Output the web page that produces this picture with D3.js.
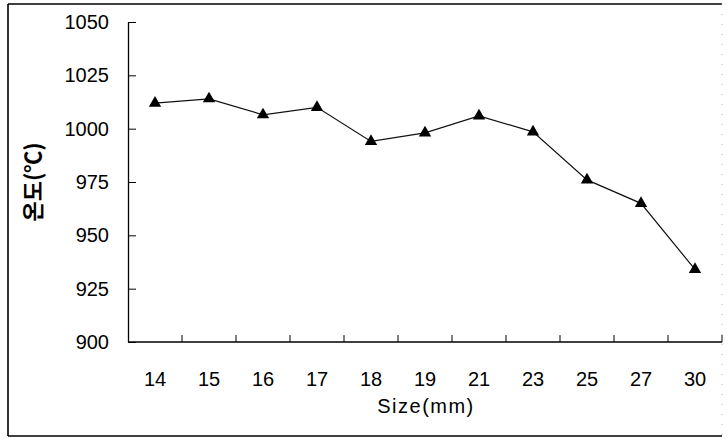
<!DOCTYPE html>
<html>
<head>
<meta charset="utf-8">
<script src="https://cdn.jsdelivr.net/npm/d3@7"></script>
<style>
  html, body { margin: 0; padding: 0; background: #fff; }
  svg { display: block; }
</style>
</head>
<body>
<svg id="chart" width="728" height="438"></svg>
<script>
const categories = ["14", "15", "16", "17", "18", "19", "21", "23", "25", "27", "30"];
const temperatures = [1012, 1014, 1006.5, 1010, 994, 998, 1006, 998.5, 976, 965, 934];
const yTicks = [900, 925, 950, 975, 1000, 1025, 1050];
const xTitle = "Size(mm)";
const yTitle = "온도(℃)";

const svg = d3.select("#chart");
const margin = { left: 128, right: 722, top: 22, bottom: 342 };

// outer frame
svg.append("line").attr("x1", 8).attr("y1", 4).attr("x2", 722).attr("y2", 4)
  .attr("stroke", "#000").attr("stroke-width", 1.6);
svg.append("line").attr("x1", 8).attr("y1", 436).attr("x2", 722).attr("y2", 436)
  .attr("stroke", "#000").attr("stroke-width", 1.6);
svg.append("line").attr("x1", 8).attr("y1", 4).attr("x2", 8).attr("y2", 436)
  .attr("stroke", "#000").attr("stroke-width", 1.6);
svg.append("line").attr("x1", 722).attr("y1", 4).attr("x2", 722).attr("y2", 436)
  .attr("stroke", "#bbb").attr("stroke-width", 1).attr("stroke-dasharray", "1,9");

const x = d3.scaleBand().domain(categories).range([margin.left, margin.right]).padding(0);
const y = d3.scaleLinear().domain([900, 1050]).range([margin.bottom, margin.top]);

const font = "'Liberation Sans', Arial, sans-serif";

// Y axis
const yAxis = d3.axisLeft(y).tickValues(yTicks).tickFormat(d3.format("d"))
  .tickSizeInner(-8).tickSizeOuter(0).tickPadding(0);
const yg = svg.append("g").attr("transform", `translate(${margin.left},0)`).call(yAxis);
yg.select(".domain").attr("stroke", "#000").attr("stroke-width", 1.3);
yg.selectAll(".tick line").attr("stroke", "#000").attr("stroke-width", 1);
yg.selectAll(".tick text").attr("x", -19).attr("font-family", font).attr("font-size", 20)
  .attr("fill", "#000").attr("letter-spacing", 0);

// X axis with ticks at category boundaries
const xg = svg.append("g").attr("transform", `translate(0,${margin.bottom})`);
xg.append("line").attr("x1", margin.left).attr("x2", margin.right).attr("y1", 0).attr("y2", 0)
  .attr("stroke", "#000").attr("stroke-width", 1.3);
xg.selectAll(".bt").data(categories).enter().append("line")
  .attr("x1", d => x(d) + x.bandwidth()).attr("x2", d => x(d) + x.bandwidth())
  .attr("y1", 0).attr("y2", -7).attr("stroke", "#000").attr("stroke-width", 1);
xg.selectAll(".lbl").data(categories).enter().append("text")
  .attr("x", d => x(d) + x.bandwidth() / 2).attr("y", 44)
  .attr("text-anchor", "middle").attr("font-family", font).attr("font-size", 20)
  .attr("fill", "#000").text(d => d);

// Line
const line = d3.line()
  .x((d, i) => x(categories[i]) + x.bandwidth() / 2)
  .y(d => y(d));
svg.append("path").datum(temperatures).attr("d", line)
  .attr("fill", "none").attr("stroke", "#111").attr("stroke-width", 1.2);

// Markers
const tri = d3.symbol().type(d3.symbolTriangle).size(66);
svg.selectAll(".pt").data(temperatures).enter().append("path")
  .attr("d", tri)
  .attr("transform", (d, i) => `translate(${x(categories[i]) + x.bandwidth() / 2},${y(d)})`)
  .attr("fill", "#000");

// Titles
svg.append("text").attr("x", (margin.left + margin.right) / 2 + 1).attr("y", 413)
  .attr("text-anchor", "middle").attr("font-family", font).attr("font-size", 20)
  .attr("letter-spacing", 1.5).attr("fill", "#000").text(xTitle);

svg.append("text")
  .attr("transform", `translate(41,${(margin.top + margin.bottom) / 2}) rotate(-90)`)
  .attr("text-anchor", "middle").attr("font-family", "'Noto Sans CJK KR', sans-serif")
  .attr("font-size", 22).attr("font-weight", "bold").attr("fill", "#000").text(yTitle);
</script>
</body>
</html>
